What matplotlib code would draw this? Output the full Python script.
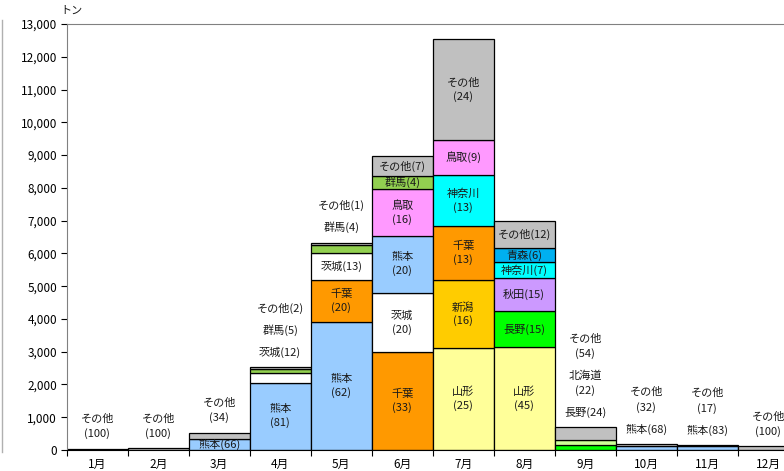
import matplotlib
matplotlib.use("Agg")
import matplotlib.pyplot as plt
from matplotlib.lines import Line2D
from matplotlib.ticker import FuncFormatter, MultipleLocator

plt.rcParams["font.family"] = ["Noto Sans CJK JP", "DejaVu Sans"]

months = [f"{i}月" for i in range(1, 13)]

# (産地, 数量[トン], シェア[%]) -- 下から積み上げる順
m1 = [("その他", 30, 100)]
m2 = [("その他", 50, 100)]
m3 = [("熊本", 340, 66), ("その他", 180, 34)]
m4 = [("熊本", 2050, 81), ("茨城", 300, 12), ("群馬", 125, 5), ("その他", 55, 2)]
m5 = [("熊本", 3900, 62), ("千葉", 1300, 20), ("茨城", 800, 13), ("群馬", 250, 4), ("その他", 80, 1)]
m6 = [("千葉", 2990, 33), ("茨城", 1800, 20), ("熊本", 1750, 20), ("鳥取", 1420, 16), ("群馬", 410, 4), ("その他", 590, 7)]
m7 = [("山形", 3120, 25), ("新潟", 2060, 16), ("千葉", 1650, 13), ("神奈川", 1570, 13), ("鳥取", 1070, 9), ("その他", 3060, 24)]
m8 = [("山形", 3140, 45), ("長野", 1100, 15), ("秋田", 1000, 15), ("神奈川", 510, 7), ("青森", 400, 6), ("その他", 840, 12)]
m9 = [("長野", 160, 24), ("北海道", 150, 22), ("その他", 380, 54)]
m10 = [("熊本", 120, 68), ("その他", 55, 32)]
m11 = [("熊本", 125, 83), ("その他", 25, 17)]
m12 = [("その他", 110, 100)]
stacks = [m1, m2, m3, m4, m5, m6, m7, m8, m9, m10, m11, m12]

colors = {
    "その他": "#c0c0c0", "熊本": "#99ccff", "茨城": "#ffffff", "群馬": "#92d050",
    "千葉": "#ff9900", "鳥取": "#ff99ff", "神奈川": "#00ffff", "新潟": "#ffcc00",
    "山形": "#ffff99", "長野": "#00ff00", "秋田": "#cc99ff", "青森": "#00b0f0",
    "北海道": "#ccff99",
}

# ラベルの置き方: in2=中に2行(既定), in1=中に1行, out1/out2=棒の上に1行/2行
label_mode = {
    (0, "その他"): "out2", (1, "その他"): "out2",
    (2, "熊本"): "in1", (2, "その他"): "out2",
    (3, "茨城"): "out1", (3, "群馬"): "out1", (3, "その他"): "out1",
    (4, "茨城"): "in1", (4, "群馬"): "out1", (4, "その他"): "out1",
    (5, "群馬"): "in1", (5, "その他"): "in1",
    (6, "鳥取"): "in1",
    (7, "長野"): "in1", (7, "秋田"): "in1", (7, "神奈川"): "in1",
    (7, "青森"): "in1", (7, "その他"): "in1",
    (8, "長野"): "out1", (8, "北海道"): "out2", (8, "その他"): "out2",
    (9, "熊本"): "out1", (9, "その他"): "out2",
    (10, "熊本"): "out1", (10, "その他"): "out2",
    (11, "その他"): "out2",
}

W, H = 784, 471
fig = plt.figure(figsize=(W / 100, H / 100), dpi=100)
x0, x1 = 66.7, 798.7
ytop, ybot = 24, 450
ax = fig.add_axes([x0 / W, 1 - ybot / H, (x1 - x0) / W, (ybot - ytop) / H])

fs = 8
txt = "#1a1a1a"
for i, stack in enumerate(stacks):
    bottom = 0
    outside = []
    for name, val, pct in stack:
        ax.bar(i, val, width=1.0, bottom=bottom, color=colors[name],
               edgecolor="black", linewidth=0.9)
        mode = label_mode.get((i, name), "in2")
        if mode == "in2":
            ax.text(i, bottom + val / 2, f"{name}\n({pct})", ha="center", va="center",
                    fontsize=fs, color=txt, linespacing=1.35)
        elif mode == "in1":
            ax.text(i, bottom + val / 2, f"{name}({pct})", ha="center", va="center",
                    fontsize=fs, color=txt)
        else:
            outside.append((name, pct, mode))
        bottom += val
    off = 15
    for name, pct, mode in outside:
        lines = [f"{name}({pct})"] if mode == "out1" else [f"({pct})", name]
        for k, line in enumerate(lines):
            ax.annotate(line, (i, bottom), xytext=(0, off + 15 * k),
                        textcoords="offset pixels", ha="center", va="center",
                        fontsize=fs, color=txt, annotation_clip=False)
        off += 15 * (len(lines) - 1) + 22

ax.set_xlim(-0.5, 11.5)
ax.set_ylim(0, 13000)
ax.yaxis.set_major_locator(MultipleLocator(1000))
ax.yaxis.set_major_formatter(FuncFormatter(lambda v, p: f"{int(v):,}"))
ax.set_xticks(range(12))
ax.set_xticklabels(months)
ax.set_xticks([i - 0.5 for i in range(13)], minor=True)
ax.tick_params(axis="x", which="major", length=0, pad=6, labelsize=8.5)
ax.tick_params(axis="x", which="minor", length=4, width=0.8, direction="out")
ax.tick_params(axis="y", length=4, width=0.8, direction="out", labelsize=8.5, pad=3)
for s in ax.spines.values():
    s.set_color("#808080")
ax.spines["bottom"].set_color("black")

fig.text(60 / W, 1 - 11 / H, "トン", fontsize=8, ha="left", va="center", color=txt)
fig.add_artist(Line2D([1.5 / W, 1.5 / W], [1 - 452 / H, 1 - 20 / H], color="#b0b0b0", linewidth=1))

fig.savefig("out.png", dpi=100)
